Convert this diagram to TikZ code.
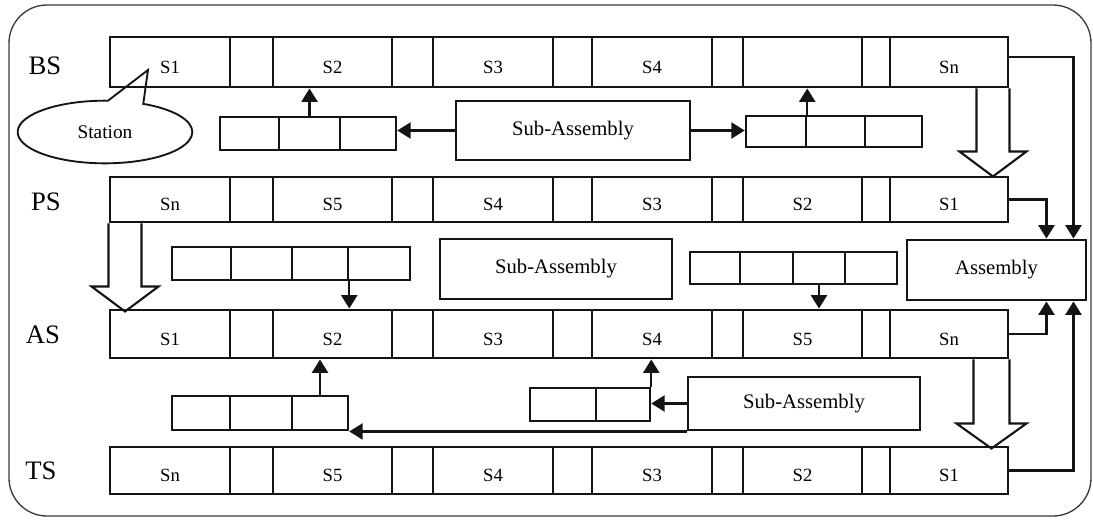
\documentclass[tikz,border=0pt]{standalone}
\usepackage{fontspec}
\setmainfont{Liberation Serif}
\usepackage{tikz}
\usetikzlibrary{arrows.meta,shapes.callouts}
\definecolor{linegray}{HTML}{141414}
\definecolor{framegray}{HTML}{3A3A3A}
\tikzset{
  stationcell/.style={
    draw=linegray,
    line width=2.2pt,
    inner sep=0pt,
    text height=16.8pt,
    text depth=0pt,
    font=\fontsize{14}{16}\selectfont
  },
  buffercell/.style={
    draw=linegray,
    line width=1.9pt,
    inner sep=0pt
  },
  subbox/.style={
    draw=linegray,
    line width=2.2pt,
    inner sep=0pt,
    font=\fontsize{15.5}{17}\selectfont
  },
  linelabel/.style={
    inner sep=0pt,
    font=\fontsize{20}{22}\selectfont
  },
  flowarrow/.style={
    -{Triangle[length=10pt,width=12pt]},
    line width=1.6pt,
    draw=linegray
  },
  hollowarrow/.style={
    line width=1.6pt,
    draw=linegray,
    line join=miter
  }
}
% #1 top left of the stem, #2 stem width, #3 stem length
\newcommand{\hollowdown}[3]{%
  \draw[hollowarrow] #1 -- ++(0,#3) -- ++(-17,0) -- ++({17+#2/2},25) -- ++({17+#2/2},-25) -- ++(-17,0) -- ++(0,-#3);
}
% #1 name, #2 left, #3 right, #4 top, #5 bottom (all in px)
\newcommand{\cellbox}[6][buffercell]{%
  \node[#1, minimum width={(#4-#3)*0.75pt}, minimum height={(#6-#5)*0.75pt}] (#2) at ({(#3+#4)/2},{(#5+#6)/2})
}

\begin{document}
\begin{tikzpicture}[x=0.75pt, y=-0.75pt]
    \useasboundingbox (0,0) rectangle (1093,519);
    \draw[framegray, line width=1pt, rounded corners=28.5pt] (9,5) rectangle (1091,516);

    % lines
    \node[linelabel] (bslabel) at (45,66) {BS};
    \node[linelabel] (pslabel) at (46,202) {PS};
    \node[linelabel] (aslabel) at (43,335) {AS};
    \node[linelabel] (tslabel) at (41,471) {TS};

    \foreach \lab/\xa/\xb [count=\n] in {S1/110/230, S2/273/392, S3/433/553, S4/592/712, {}/743/862, Sn/890/1008}
        \cellbox[stationcell]{bs-\n}{\xa}{\xb}{37}{87} {\lab};
    \foreach \lab/\xa/\xb [count=\n] in {Sn/110/230, S5/273/392, S4/433/553, S3/592/712, S2/743/862, S1/890/1008}
        \cellbox[stationcell]{ps-\n}{\xa}{\xb}{177}{222} {\lab};
    \foreach \lab/\xa/\xb [count=\n] in {S1/110/230, S2/273/392, S3/433/553, S4/592/712, S5/743/862, Sn/890/1008}
        \cellbox[stationcell]{as-\n}{\xa}{\xb}{310}{358} {\lab};
    \foreach \lab/\xa/\xb [count=\n] in {Sn/110/230, S5/273/392, S4/433/553, S3/592/712, S2/743/862, S1/890/1008}
        \cellbox[stationcell]{ts-\n}{\xa}{\xb}{447}{494} {\lab};
    \foreach \row/\ya/\yb in {bs/37/87, ps/177/222, as/310/358, ts/447/494}
        \foreach \xa/\xb [count=\n] in {230/273, 392/433, 553/592, 712/743, 862/890}
            \cellbox[stationcell]{\row-g\n}{\xa}{\xb}{\ya}{\yb} {};

    \node[ellipse callout, draw=linegray, line width=1.4pt, minimum width=131pt, minimum height=47pt,
        callout absolute pointer={([xshift=-16.5pt,yshift=-6pt]bs-1.center)}, callout pointer arc=24,
        font=\fontsize{14.5}{16}\selectfont] (station) at (105,132) {Station};

    % buffers
    \foreach \xa/\xb [count=\n] in {220/279, 279/340, 340/396}
        \cellbox{bsleft-\n}{\xa}{\xb}{117}{150} {};
    \foreach \xa/\xb [count=\n] in {746/806, 806/865, 865/922}
        \cellbox{bsright-\n}{\xa}{\xb}{116}{147} {};
    \foreach \xa/\xb [count=\n] in {172/231, 231/292, 292/348, 348/410}
        \cellbox{asleft-\n}{\xa}{\xb}{247}{280} {};
    \foreach \xa/\xb [count=\n] in {690/740, 740/793, 793/845, 845/897}
        \cellbox{asright-\n}{\xa}{\xb}{252}{284} {};
    \foreach \xa/\xb [count=\n] in {172/230, 230/292, 292/348}
        \cellbox{lowleft-\n}{\xa}{\xb}{396}{430} {};
    \foreach \xa/\xb [count=\n] in {530/596, 596/650}
        \cellbox{lowmid-\n}{\xa}{\xb}{388}{421} {};

    \cellbox[subbox]{subtop}{456}{690}{101}{160} {Sub-Assembly};
    \cellbox[subbox]{submid}{440}{672}{239}{299} {Sub-Assembly};
    \cellbox[subbox]{sublow}{688}{920}{377}{430} {Sub-Assembly};
    \cellbox[subbox]{assembly}{907}{1086}{240}{300} {Assembly};

    \draw[flowarrow] (subtop.west) -- (subtop.west -| bsleft-3.east);
    \draw[flowarrow] (subtop.east) -- (subtop.east -| bsright-1.west);
    \draw[flowarrow] (bsleft-2.north) -- (bsleft-2.north |- bs-2.south);
    \draw[flowarrow] (bsright-1.north east) -- (bsright-1.north east |- bs-5.south);
    \draw[flowarrow] (asleft-3.south east) -- (asleft-3.south east |- as-2.north);
    \draw[flowarrow] (asright-3.south) -- (asright-3.south |- as-5.north);
    \draw[flowarrow] (sublow.west) -- (sublow.west -| lowmid-2.east);
    \draw[flowarrow] (sublow.south west) -- (sublow.south west -| lowleft-3.east);
    \draw[flowarrow] (lowmid-2.north east) -- (lowmid-2.north east |- as-4.south);
    \draw[flowarrow] (lowleft-3.north) -- (lowleft-3.north |- as-2.south);

    \draw[flowarrow] ([yshift=3.75pt]bs-6.east) -| ([xshift=-10.5pt]assembly.north east);
    \draw[flowarrow] (ps-6.east) -| ([xshift=-30.75pt]assembly.north east);
    \draw[flowarrow] (as-6.east) -| ([xshift=-30.75pt]assembly.south east);
    \draw[flowarrow] (ts-6.east) -| ([xshift=-10.5pt]assembly.south east);

    \hollowdown{([xshift=-24.75pt]bs-6.south east)}{33}{63}
    \hollowdown{(ps-1.south west)}{33}{63}
    \hollowdown{([xshift=-27pt]as-6.south east)}{36}{64}
\end{tikzpicture}
\end{document}
